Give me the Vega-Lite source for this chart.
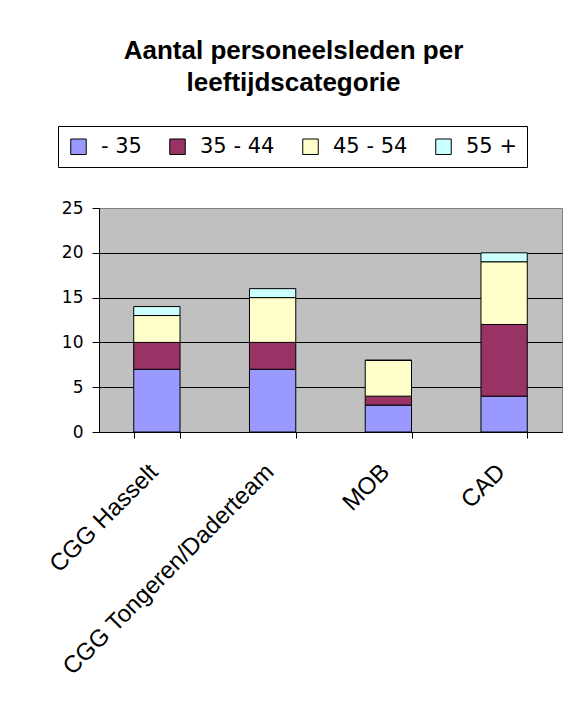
{
  "$schema": "https://vega.github.io/schema/vega-lite/v6.json",
  "width": 463,
  "height": 224,
  "autosize": {"type": "none"},
  "padding": {"left": 99, "top": 208, "right": 15, "bottom": 269},
  "background": "white",
  "title": {
    "text": ["Aantal personeelsleden per", "leeftijdscategorie"],
    "font": "Liberation Sans",
    "fontSize": 26,
    "fontWeight": "bold",
    "color": "black",
    "lineHeight": 32,
    "anchor": "middle",
    "frame": "group",
    "dx": -37,
    "offset": 30
  },
  "data": {
    "values": [
      {"afdeling": "CGG Hasselt", "leeftijd": "- 35", "aantal": 7},
      {"afdeling": "CGG Hasselt", "leeftijd": "35 - 44", "aantal": 3},
      {"afdeling": "CGG Hasselt", "leeftijd": "45 - 54", "aantal": 3},
      {"afdeling": "CGG Hasselt", "leeftijd": "55 +", "aantal": 1},
      {"afdeling": "CGG Tongeren/Daderteam", "leeftijd": "- 35", "aantal": 7},
      {"afdeling": "CGG Tongeren/Daderteam", "leeftijd": "35 - 44", "aantal": 3},
      {"afdeling": "CGG Tongeren/Daderteam", "leeftijd": "45 - 54", "aantal": 5},
      {"afdeling": "CGG Tongeren/Daderteam", "leeftijd": "55 +", "aantal": 1},
      {"afdeling": "MOB", "leeftijd": "- 35", "aantal": 3},
      {"afdeling": "MOB", "leeftijd": "35 - 44", "aantal": 1},
      {"afdeling": "MOB", "leeftijd": "45 - 54", "aantal": 4},
      {"afdeling": "MOB", "leeftijd": "55 +", "aantal": 0},
      {"afdeling": "CAD", "leeftijd": "- 35", "aantal": 4},
      {"afdeling": "CAD", "leeftijd": "35 - 44", "aantal": 8},
      {"afdeling": "CAD", "leeftijd": "45 - 54", "aantal": 7},
      {"afdeling": "CAD", "leeftijd": "55 +", "aantal": 1}
    ]
  },
  "mark": {"type": "bar", "stroke": "black", "strokeWidth": 1},
  "encoding": {
    "x": {
      "field": "afdeling",
      "type": "nominal",
      "sort": ["CGG Hasselt", "CGG Tongeren/Daderteam", "MOB", "CAD"],
      "scale": {"paddingInner": 0.6, "paddingOuter": 0.3},
      "axis": {
        "title": null,
        "labelAngle": -45,
        "labelAlign": "right",
        "labelBaseline": "middle",
        "labelFont": "Liberation Sans",
        "labelFontSize": 24,
        "labelColor": "black",
        "labelPadding": 30,
        "labelOffset": -3,
        "labelLimit": 500,
        "tickBand": "extent",
        "tickSize": 6,
        "tickColor": "black",
        "domainColor": "black",
        "domainWidth": 1
      }
    },
    "y": {
      "field": "aantal",
      "type": "quantitative",
      "aggregate": "sum",
      "stack": "zero",
      "scale": {"domain": [0, 25], "nice": false},
      "axis": {
        "title": null,
        "values": [0, 5, 10, 15, 20, 25],
        "labelFont": "DejaVu Sans",
        "labelFontSize": 17,
        "labelColor": "black",
        "labelPadding": 9,
        "tickSize": 7,
        "tickColor": "black",
        "domainColor": "black",
        "grid": true,
        "gridColor": {"condition": {"test": "datum.value == 25", "value": "#808080"}, "value": "black"},
        "gridWidth": 1,
        "gridOpacity": 1
      }
    },
    "color": {
      "field": "leeftijd",
      "type": "nominal",
      "scale": {
        "domain": ["- 35", "35 - 44", "45 - 54", "55 +"],
        "range": ["#9999FF", "#993366", "#FFFFCC", "#CCFFFF"]
      },
      "legend": {
        "title": null,
        "orient": "none",
        "legendX": -41,
        "legendY": -82,
        "direction": "horizontal",
        "columns": 4,
        "strokeColor": "black",
        "fillColor": "white",
        "padding": 10,
        "symbolType": "square",
        "symbolSize": 240,
        "symbolStrokeColor": "black",
        "symbolStrokeWidth": 1,
        "symbolOpacity": 1,
        "labelFont": "DejaVu Sans",
        "labelFontSize": 21,
        "labelColor": "black",
        "labelOffset": 12,
        "columnPadding": 25
      }
    },
    "order": {"field": "leeftijd", "sort": "ascending"}
  },
  "config": {
    "view": {"fill": "#C0C0C0", "stroke": "#808080", "strokeWidth": 1}
  }
}
